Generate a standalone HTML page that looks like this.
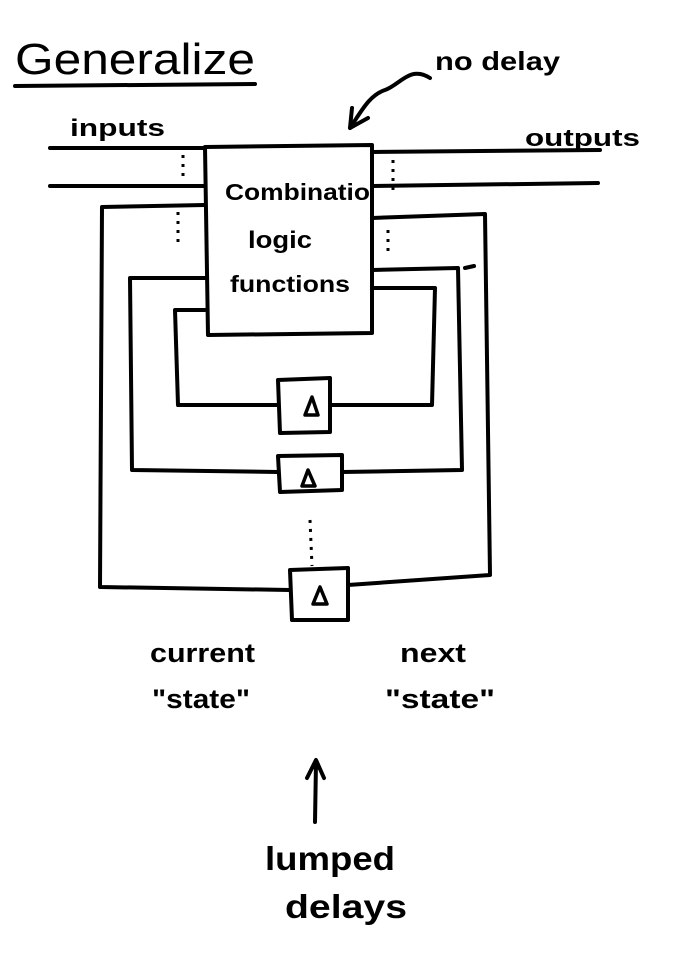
<!DOCTYPE html>
<html><head><meta charset="utf-8"><style>
html,body{margin:0;padding:0;background:#fff;}
svg{display:block;}
text{font-family:"Liberation Sans",sans-serif;fill:#000;}
</style></head><body>
<svg width="679" height="956" viewBox="0 0 679 956" xmlns="http://www.w3.org/2000/svg">
<g fill="none" stroke="#000" stroke-width="4" stroke-linecap="round" stroke-linejoin="round">
<path d="M15 86 L255 84"/>
<path d="M430 78 C410 65 400 85 385 90 C370 95 362 110 352 125"/>
<path d="M350 128 L352 108 M350 128 L368 118"/>
<path d="M50 148 L205 148"/>
<path d="M372 152 L600 150"/>
<path d="M50 186 L205 186"/>
<path d="M372 186 L598 183"/>
<path d="M205 147 L372 145 L372 333 L208 335 Z"/>
<path d="M205 205 L102 207 L100 587 L290 590"/>
<path d="M372 218 L485 214 L490 575 L348 585"/>
<path d="M205 278 L130 278 L132 470 L278 472"/>
<path d="M372 270 L458 268 L462 470 L342 472"/>
<path d="M465 268 L474 266"/>
<path d="M205 310 L175 310 L178 405 L278 405"/>
<path d="M372 288 L435 288 L432 405 L330 405"/>
<path d="M278 380 L330 378 L330 432 L280 433 Z"/>
<path d="M278 456 L342 455 L342 490 L280 492 Z"/>
<path d="M290 570 L348 568 L348 620 L292 620 Z"/>
<path d="M305 415 L312 397 L318 415 Z" stroke-width="3.5"/>
<path d="M302 486 L308 470 L315 486 Z" stroke-width="3.5"/>
<path d="M313 604 L320 587 L327 604 Z" stroke-width="3.5"/>
<path d="M315 822 L316 762 M307 778 L316 760 L324 778"/>
</g>
<g stroke="#000" stroke-width="3" stroke-dasharray="3 6" fill="none">
<path d="M183 155 L183 182"/>
<path d="M178 212 L178 246"/>
<path d="M393 160 L393 190"/>
<path d="M388 230 L388 256"/>
<path d="M310 520 L312 566"/>
</g>
<g font-weight="bold">
<text x="15" y="74" font-size="44" font-weight="normal" textLength="240" lengthAdjust="spacingAndGlyphs">Generalize</text>
<text x="435" y="70" font-size="26" textLength="125" lengthAdjust="spacingAndGlyphs">no delay</text>
<text x="70" y="136" font-size="24" textLength="95" lengthAdjust="spacingAndGlyphs">inputs</text>
<text x="525" y="146" font-size="24" textLength="115" lengthAdjust="spacingAndGlyphs">outputs</text>
<text x="225" y="200" font-size="23" textLength="145" lengthAdjust="spacingAndGlyphs">Combinatio</text>
<text x="248" y="248" font-size="24" textLength="64" lengthAdjust="spacingAndGlyphs">logic</text>
<text x="230" y="292" font-size="23" textLength="120" lengthAdjust="spacingAndGlyphs">functions</text>
<text x="150" y="662" font-size="27" textLength="105" lengthAdjust="spacingAndGlyphs">current</text>
<text x="152" y="708" font-size="27" textLength="98" lengthAdjust="spacingAndGlyphs">"state"</text>
<text x="400" y="662" font-size="27" textLength="66" lengthAdjust="spacingAndGlyphs">next</text>
<text x="385" y="708" font-size="27" textLength="110" lengthAdjust="spacingAndGlyphs">"state"</text>
<text x="265" y="870" font-size="33" textLength="130" lengthAdjust="spacingAndGlyphs">lumped</text>
<text x="285" y="918" font-size="33" textLength="122" lengthAdjust="spacingAndGlyphs">delays</text>
</g>
</svg>
</body></html>
